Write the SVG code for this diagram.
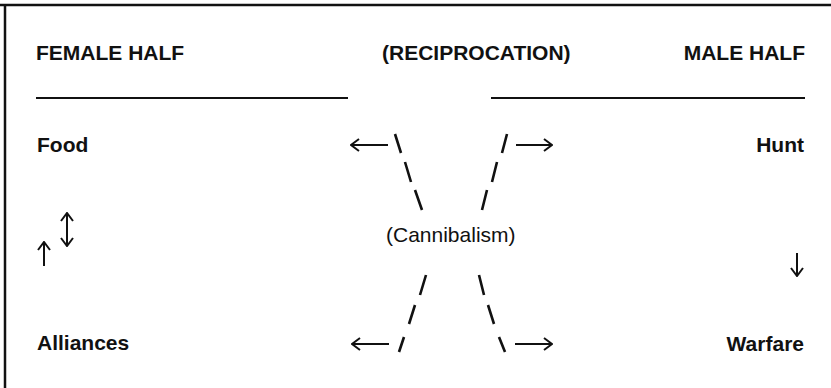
<svg xmlns="http://www.w3.org/2000/svg" width="831" height="388" viewBox="0 0 831 388">
  <style>
    .hdr { font-family: "Liberation Sans", Arial, sans-serif; font-weight: bold; font-size: 21px; fill: #111; }
    .lbl { font-family: "Liberation Sans", Arial, sans-serif; font-weight: bold; font-size: 21px; fill: #111; }
    .mid { font-family: "Liberation Sans", Arial, sans-serif; font-size: 21px; fill: #111; }
    .rule { stroke: #111; stroke-width: 2; fill: none; }
    .frame { stroke: #111; stroke-width: 2.5; fill: none; }
    .arrow { stroke: #111; stroke-width: 2; fill: none; marker-end: url(#head); }
    .both { stroke: #111; stroke-width: 2; fill: none; marker-start: url(#head); marker-end: url(#head); }
    .dash { stroke: #111; stroke-width: 2.6; stroke-linecap: butt; fill: none; }
  </style>
  <defs>
    <marker id="head" viewBox="0 0 10 14" refX="9" refY="7" markerWidth="10" markerHeight="14" markerUnits="userSpaceOnUse" orient="auto-start-reverse">
      <path d="M1,1 L9,7 L1,13" fill="none" stroke="#111" stroke-width="2"/>
    </marker>
  </defs>
  <rect width="831" height="388" fill="#fff"/>

  <!-- outer frame: top and left edges only -->
  <path class="frame" d="M0,5 H831 M5,4 V388"/>

  <!-- column headings -->
  <g id="female-half">
    <text class="hdr" x="36" y="60">FEMALE HALF</text>
    <line class="rule" x1="36" y1="98" x2="348" y2="98"/>
  </g>
  <g id="reciprocation">
    <text class="hdr" x="382" y="60">(RECIPROCATION)</text>
  </g>
  <g id="male-half">
    <text class="hdr" x="805" y="60" text-anchor="end">MALE HALF</text>
    <line class="rule" x1="491" y1="98" x2="805" y2="98"/>
  </g>

  <!-- items -->
  <g id="food"><text class="lbl" x="37" y="152">Food</text></g>
  <g id="hunt"><text class="lbl" x="804" y="152" text-anchor="end">Hunt</text></g>
  <g id="alliances"><text class="lbl" x="37" y="350">Alliances</text></g>
  <g id="warfare"><text class="lbl" x="804" y="351" text-anchor="end">Warfare</text></g>
  <g id="cannibalism"><text class="mid" x="386" y="242">(Cannibalism)</text></g>

  <g id="connectors">
    <!-- vertical arrows at the sides -->
    <line class="arrow" x1="44" y1="266" x2="44" y2="242"/>
    <line class="both" x1="67" y1="213" x2="67" y2="246"/>
    <line class="arrow" x1="797" y1="253" x2="797" y2="276"/>

    <!-- horizontal arrows -->
    <line class="arrow" x1="388" y1="145" x2="351" y2="145"/>
    <line class="arrow" x1="516" y1="145" x2="552" y2="145"/>
    <line class="arrow" x1="389" y1="344" x2="352" y2="344"/>
    <line class="arrow" x1="515" y1="344" x2="552" y2="344"/>

    <!-- dashed diagonals crossing at the centre -->
    <path class="dash" d="M395,134 L401,153 M405,162 L411,182 M415,190 L422,210"/>
    <path class="dash" d="M507,134 L502,153 M497,162 L492,182 M487,190 L482,210"/>
    <path class="dash" d="M426,275 L420,295 M415,305 L409,324 M404,337 L399,352"/>
    <path class="dash" d="M479,275 L484,295 M488,305 L494,324 M499,337 L505,352"/>
  </g>
</svg>
